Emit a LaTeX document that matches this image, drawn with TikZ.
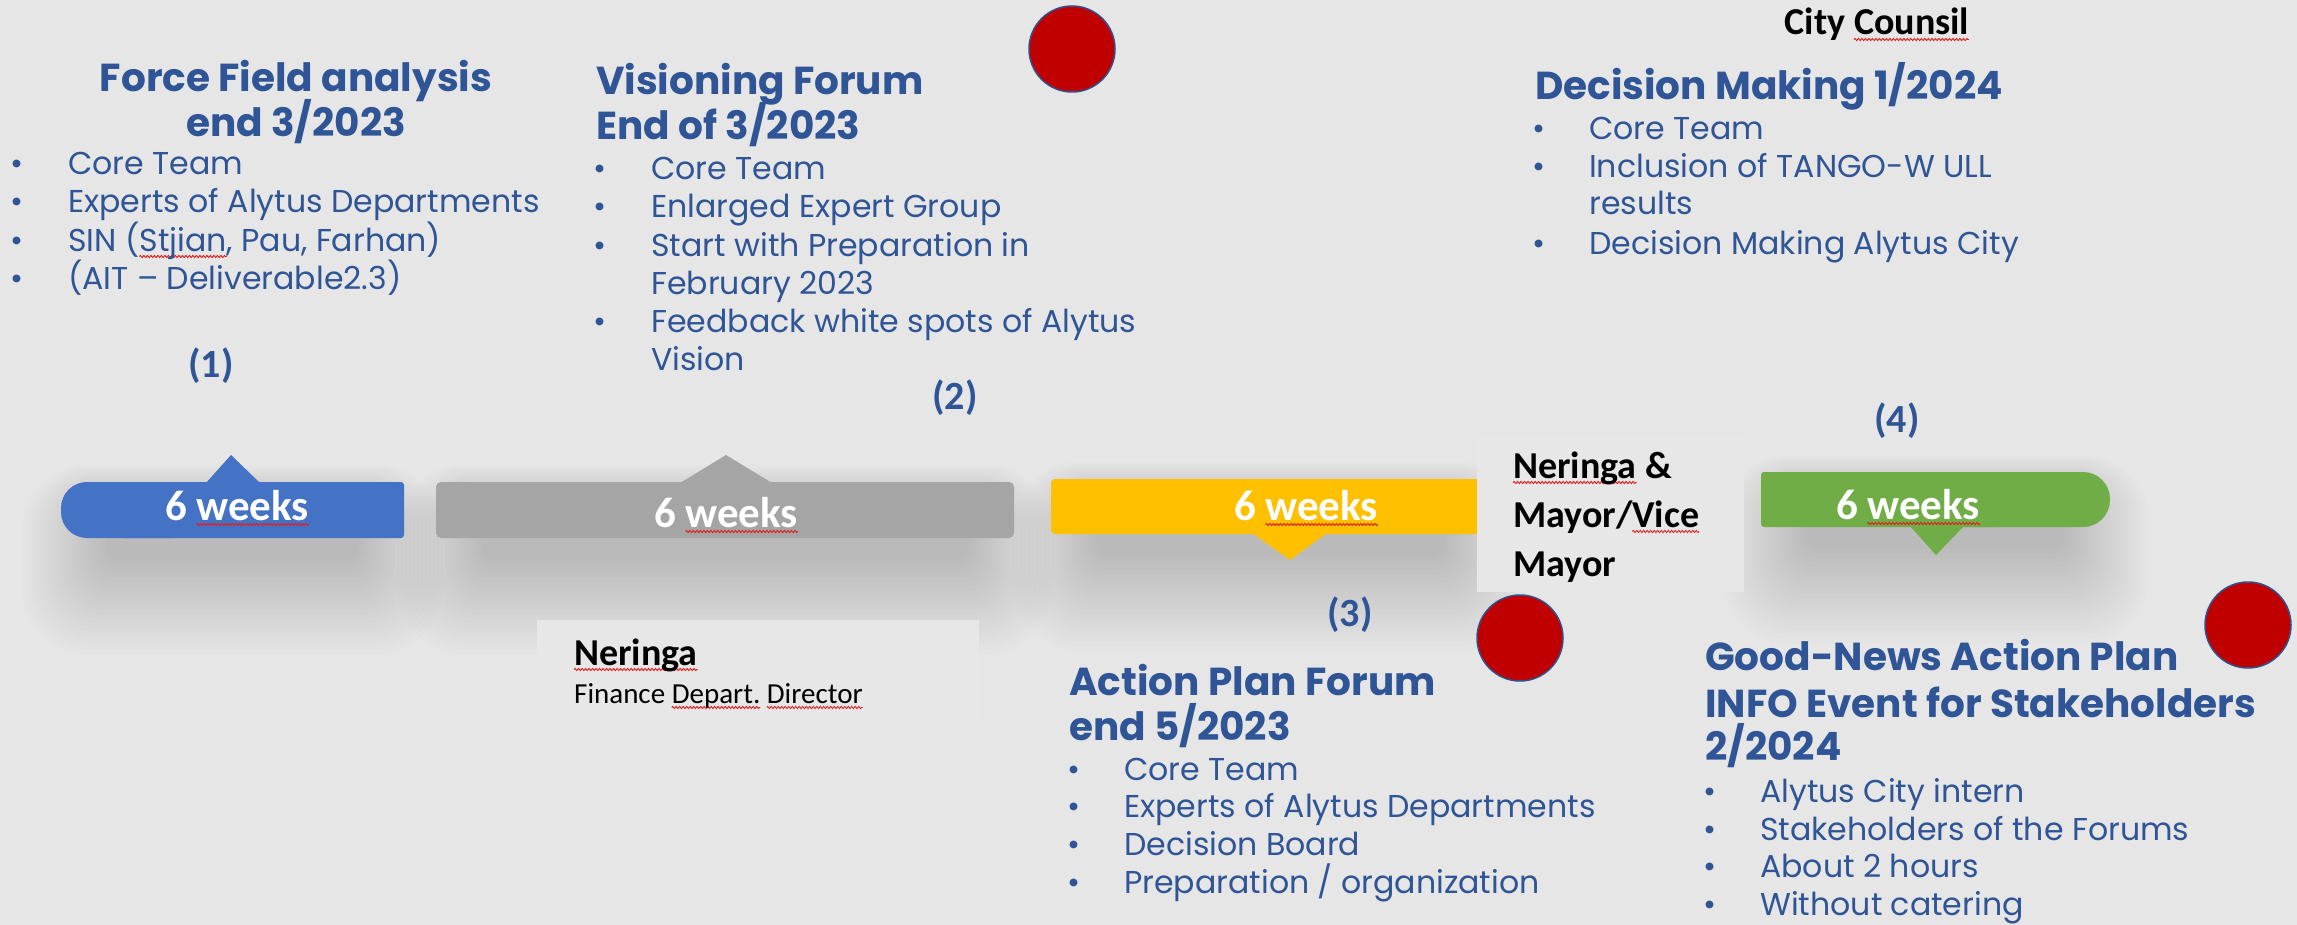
\documentclass[tikz,border=0pt]{standalone}
\usepackage{fontspec}
\setmainfont{Poppins}
\newfontfamily\carl{Carlito}
\usetikzlibrary{decorations.pathmorphing}
\definecolor{bg}{HTML}{E6E6E6}
\definecolor{boxc}{HTML}{E7E7E7}
\definecolor{tblue}{HTML}{2F5597}
\definecolor{cBlue}{HTML}{4472C4}
\definecolor{cGray}{HTML}{A5A5A5}
\definecolor{cYellow}{HTML}{FFC000}
\definecolor{cGreen}{HTML}{70AD47}
\definecolor{dotred}{HTML}{C00000}
\definecolor{dotedge}{HTML}{2F528F}
\definecolor{spell}{HTML}{E02020}
\newsavebox\sqbox
\newdimen\sqw
\newcommand\sq[1]{\sbox\sqbox{#1}\sqw=\wd\sqbox\tikz[overlay,baseline=0pt]\draw[spell,line width=0.9pt,decorate,decoration={zigzag,segment length=3.5pt,amplitude=1.1pt}] (0pt,-4.5pt) -- (\sqw,-4.5pt);\usebox\sqbox}
\newcommand\bl[5]{\node[bt,anchor=base] (#1b) at (#2,#4) {\textbullet}; \node[bt,anchor=base west] (#1) at (#3,#4) {#5};}
\newcommand\cl[4]{\node[bt,anchor=base west] (#1) at (#2,#3) {#4};}
% soft shadow: x1 y1 x2 y2 of bar
\newcommand\softshadow[4]{%
  \foreach \k in {0,...,21}{%
    \pgfmathsetmacro\rr{14+\k*2.5}%
    \fill[black, opacity=0.006, rounded corners=\rr pt]
      ({#1+45-\k*4},{#2+25-\k*2}) rectangle ({#3-45+\k*4},{#4+22+\k*4.5});
  }}
\begin{document}
\begin{tikzpicture}[x=1pt,y=-1pt,
  ttl/.style={inner sep=0pt, text=tblue, font=\fontsize{39}{45}\selectfont\bfseries},
  bt/.style={inner sep=0pt, text=tblue, font=\fontsize{31.6}{38}\selectfont},
  wk/.style={inner sep=0pt, text=white, font=\carl\fontsize{43}{50}\selectfont\bfseries},
  num/.style={inner sep=0pt, text=tblue, font=\carl\fontsize{40}{48}\selectfont\bfseries},
  blk/.style={inner sep=0pt, text=black, font=\carl\fontsize{38}{48}\selectfont\bfseries},
  small/.style={inner sep=0pt, text=black, font=\carl\fontsize{29}{35}\selectfont},
  dot/.style={circle, minimum size=86pt, inner sep=0pt, fill=dotred, draw=dotedge, line width=1.5pt}
]
\fill[bg] (0,0) rectangle (2297,925);
\useasboundingbox (0,0) rectangle (2297,925);

% shadows
\softshadow{61}{482}{404}{538}
\softshadow{436}{482}{1014}{538}
\softshadow{1051}{479}{1490}{534}
\softshadow{1761}{472}{2110}{527}

% light boxes
\fill[boxc] (537,620) rectangle (979,720);

% bars
\fill[cBlue, rounded corners=26] (61,482) rectangle (200,538);
\fill[cBlue, rounded corners=3] (120,482) rectangle (404,538);
\fill[cBlue] (206,483) -- (231,455) -- (260,483) -- cycle;

\fill[cGray, rounded corners=5] (436,482) rectangle (1014,538);
\fill[cGray] (680,483) -- (726,455) -- (772,483) -- cycle;

\fill[cYellow, rounded corners=4] (1051,479) rectangle (1490,534);
\fill[cYellow] (1252,533) -- (1290,560) -- (1327,533) -- cycle;

\fill[cGreen, rounded corners=27] (1900,472) rectangle (2110,527);
\fill[cGreen, rounded corners=3] (1761,472) rectangle (2000,527);
\fill[cGreen] (1910,526) -- (1936,555) -- (1964,526) -- cycle;

\fill[boxc] (1477,437) rectangle (1744,592);

% 6 weeks labels
\node[wk, anchor=base] (w1) at (237,520) {6 \sq{weeks}};
\node[wk, anchor=base] (w2) at (726,527) {6 \sq{weeks}};
\node[wk, anchor=base] (w3) at (1306,520) {6 \sq{weeks}};
\node[wk, anchor=base] (w4) at (1908,519) {6 \sq{weeks}};

% Neringa & Mayor
\node[blk, anchor=base west] (nm1) at (1513,478) {\sq{Neringa} \&};
\node[blk, anchor=base west] (nm2) at (1513,527) {Mayor/\sq{Vice}};
\node[blk, anchor=base west] (nm3) at (1513,576) {Mayor};

% Neringa finance
\node[blk, anchor=base west] (nf1) at (574,665) {\sq{Neringa}};
\node[small, anchor=base west] (nf2) at (574,703) {Finance \sq{Depart.} \sq{Director}};

% numbers
\node[num] (n1) at (211,366) {(1)};
\node[num] (n2) at (955,398) {(2)};
\node[num] (n3) at (1350,615) {(3)};
\node[num] (n4) at (1897,421) {(4)};

% red dots
\node[dot] (r1) at (1072,49) {};
\node[dot] (r2) at (1520,638) {};
\node[dot] (r3) at (2248,625) {};

% Force Field
\node[ttl, anchor=base] (ff1) at (296,92) {Force Field analysis};
\node[ttl, anchor=base] (ff2) at (296,137) {end 3/2023};
\bl{ffa}{17}{68}{175}{Core Team}
\bl{ffb}{17}{68}{213}{Experts of Alytus Departments}
\bl{ffc}{17}{68}{252}{SIN (\sq{Stjian}, Pau, Farhan)}
\bl{ffd}{17}{68}{290}{(AIT – Deliverable2.3)}

% Visioning
\node[ttl, anchor=base west] (vf1) at (596,95) {Visioning Forum};
\node[ttl, anchor=base west] (vf2) at (596,140) {End of 3/2023};
\bl{vfa}{600}{651}{180}{Core Team}
\bl{vfb}{600}{651}{218}{Enlarged Expert Group}
\bl{vfc}{600}{651}{257}{Start with Preparation in}
\cl{vfd}{651}{295}{February 2023}
\bl{vfe}{600}{651}{333}{Feedback white spots of Alytus}
\cl{vff}{651}{370}{Vision}

% Decision Making
\node[blk, anchor=base] (cc) at (1877,35) {City \sq{Counsil}};
\node[ttl, anchor=base west] (dm1) at (1535,100) {Decision Making 1/2024};
\bl{dma}{1539}{1589}{140}{Core Team}
\bl{dmb}{1539}{1589}{178}{Inclusion of TANGO-W ULL}
\cl{dmc}{1589}{215}{results}
\bl{dmd}{1539}{1589}{255}{Decision Making Alytus City}

% Action Plan
\node[ttl, anchor=base west] (ap1) at (1069,695) {Action Plan Forum};
\node[ttl, anchor=base west] (ap2) at (1069,740) {end 5/2023};
\bl{apa}{1074}{1124}{780}{Core Team}
\bl{apb}{1074}{1124}{817}{Experts of Alytus Departments}
\bl{apc}{1074}{1124}{855}{Decision Board}
\bl{apd}{1074}{1124}{893}{Preparation / organization}

% Good-News
\node[ttl, anchor=base west] (gn1) at (1705,670) {Good-News Action Plan};
\node[ttl, anchor=base west] (gn2) at (1705,717) {INFO Event for Stakeholders};
\node[ttl, anchor=base west] (gn3) at (1705,760) {2/2024};
\bl{gna}{1710}{1760}{802}{Alytus City intern}
\bl{gnb}{1710}{1760}{840}{Stakeholders of the Forums}
\bl{gnc}{1710}{1760}{877}{About 2 hours}
\bl{gnd}{1710}{1760}{915}{Without catering}
\end{tikzpicture}
\end{document}
